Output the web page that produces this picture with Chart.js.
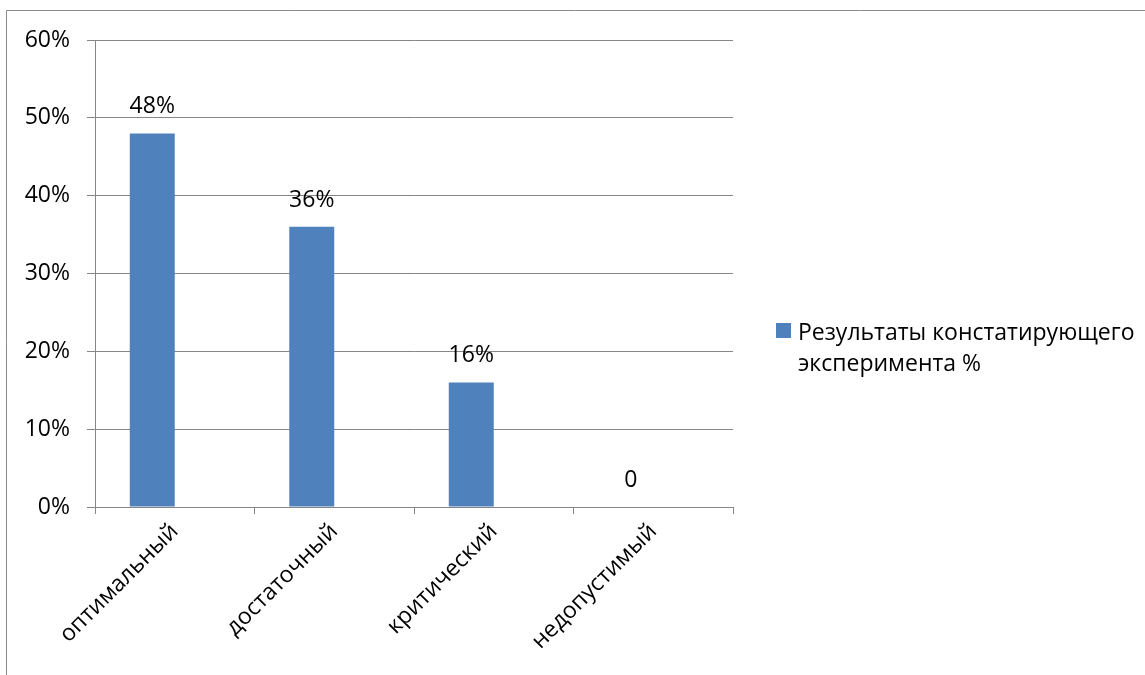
<!DOCTYPE html>
<html>
<head>
<meta charset="utf-8">
<script src="https://cdn.jsdelivr.net/npm/chart.js@4.4.1/dist/chart.umd.min.js"></script>
<style>
  html, body { margin: 0; padding: 0; background: #ffffff; }
  #wrap { position: relative; width: 1145px; height: 675px; overflow: hidden; }
  #legend { position: absolute; left: 776px; top: 316px; font-family: "Open Sans", sans-serif; font-size: 23px; line-height: 31px; color: #000; }
  #legend .sw { position: absolute; left: 0; top: 7px; width: 15px; height: 15px; background: #4F81BD; }
  #legend .tx { margin-left: 22px; }
</style>
</head>
<body>
<div id="wrap">
  <canvas id="c" width="1145" height="675"></canvas>
  <div id="legend"><span class="sw"></span><div class="tx">Результаты констатирующего<br>эксперимента %</div></div>
</div>
<script>
const categories = ["оптимальный", "достаточный", "критический", "недопустимый"];
const seriesName = "Результаты констатирующего эксперимента %";
const values = [48, 36, 16, 0];
const emptySeries = [null, null, null, null];
const yTicks = [0, 10, 20, 30, 40, 50, 60];

const FONT = "'Open Sans', sans-serif";
const GRID = "#868686";

const frame = {
  id: 'frame',
  beforeDraw(chart) {
    const ctx = chart.ctx;
    ctx.save();
    ctx.strokeStyle = "#8a8a8a";
    ctx.lineWidth = 1;
    ctx.beginPath();
    ctx.moveTo(6.5, 675);
    ctx.lineTo(6.5, 10.5);
    ctx.lineTo(1145, 10.5);
    ctx.stroke();
    ctx.restore();
  }
};

const valueLabels = {
  id: 'valueLabels',
  afterDatasetsDraw(chart) {
    const ctx = chart.ctx;
    const meta = chart.getDatasetMeta(0);
    ctx.save();
    ctx.font = "23px " + FONT;
    ctx.fillStyle = "#000";
    ctx.textAlign = "center";
    ctx.textBaseline = "alphabetic";
    meta.data.forEach((el, i) => {
      const v = values[i];
      const txt = v === 0 ? "0" : v + "%";
      ctx.fillText(txt, el.x, el.y - 20);
    });
    ctx.restore();
  }
};

new Chart(document.getElementById('c'), {
  type: 'bar',
  data: {
    labels: categories,
    datasets: [
      { label: seriesName, data: values, backgroundColor: "#4F81BD", borderWidth: 0,
        categoryPercentage: 0.564, barPercentage: 1.0 },
      { label: "", data: emptySeries, backgroundColor: "#C0504D", borderWidth: 0,
        categoryPercentage: 0.564, barPercentage: 1.0 }
    ]
  },
  options: {
    responsive: false,
    animation: false,
    devicePixelRatio: 1,
    layout: { padding: { left: 0, top: 40, right: 412, bottom: 0 } },
    plugins: {
      legend: { display: false },
      tooltip: { enabled: false },
      title: { display: false }
    },
    scales: {
      x: {
        offset: true,
        grid: { display: true, drawOnChartArea: false, drawTicks: true, tickLength: 7, color: GRID, offset: true },
        border: { display: true, color: GRID, width: 1 },
        ticks: { color: "#000", font: { family: FONT, size: 23 }, minRotation: 45, maxRotation: 45, padding: 4, autoSkip: false },
        afterFit(scale) { scale.height = 168; }
      },
      y: {
        min: 0, max: 60,
        afterBuildTicks(scale) { scale.ticks = yTicks.map(v => ({ value: v })); },
        grid: { color: GRID, lineWidth: 1, drawTicks: true, tickLength: 8 },
        border: { display: true, color: GRID, width: 1 },
        ticks: { color: "#000", font: { family: FONT, size: 23 }, padding: 17, callback: v => v + "%" },
        afterFit(scale) { scale.width = 95; }
      }
    }
  },
  plugins: [frame, valueLabels]
});
</script>
</body>
</html>
